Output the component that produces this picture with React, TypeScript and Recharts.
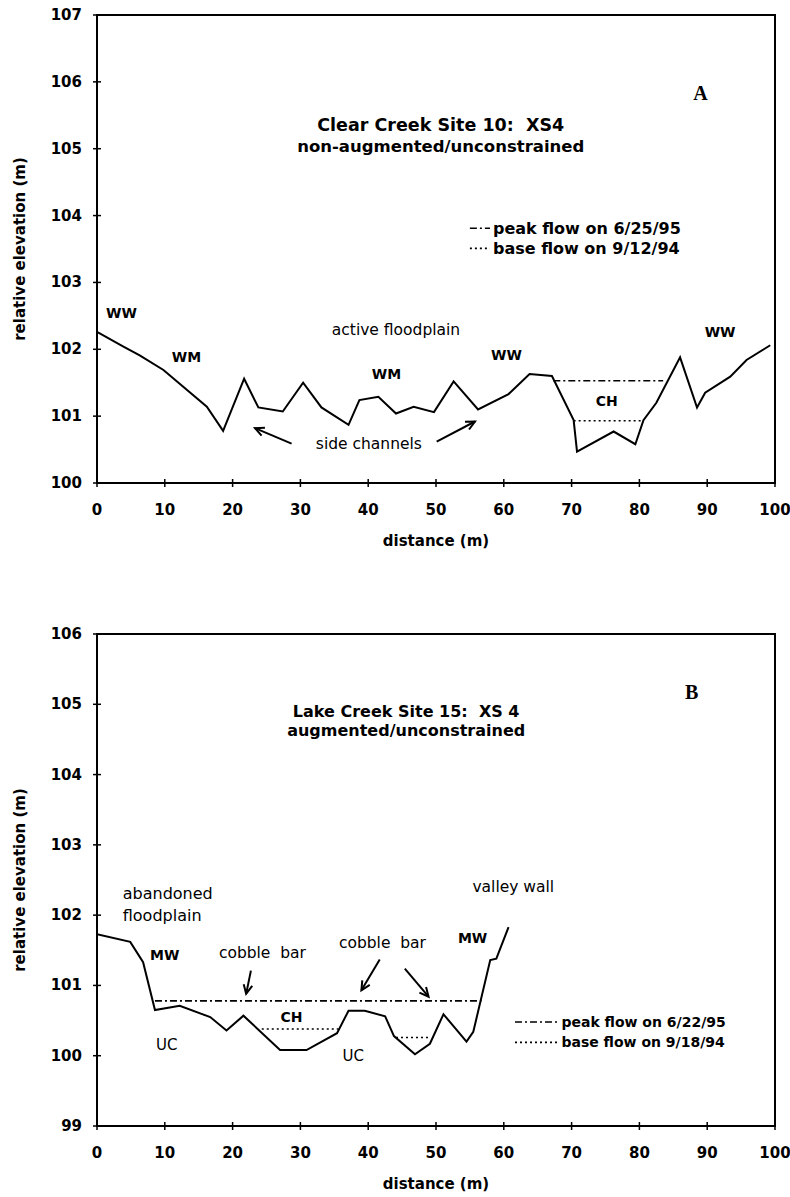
import {
  Line,
  LineChart,
  ReferenceArea,
  ReferenceDot,
  ReferenceLine,
  XAxis,
  YAxis,
} from "recharts";

const FONT = "'DejaVu Sans', 'Liberation Sans', Arial, sans-serif";
const SERIF = "'Liberation Serif', 'DejaVu Serif', serif";

const distanceTicks = [0, 10, 20, 30, 40, 50, 60, 70, 80, 90, 100];
const clearTicks = [100, 101, 102, 103, 104, 105, 106, 107];
const lakeTicks = [99, 100, 101, 102, 103, 104, 105, 106];

// A: Clear Creek Site 10, XS4
const clearDistance = [
  0, 3.9, 6.3, 9.8, 16.2, 18.6, 21.7, 23.8, 27.4, 30.4, 33.1, 37.1, 38.7, 41.5,
  44.1, 46.7, 49.7, 52.6, 56.2, 60.7, 63.8, 67.1, 70.3, 70.8, 76.2, 79.4, 80.6,
  82.5, 86.0, 88.5, 89.7, 93.4, 95.8, 99.3,
];
const clearElevation = [
  102.26, 102.04, 101.91, 101.69, 101.14, 100.78, 101.56, 101.13, 101.07,
  101.5, 101.13, 100.87, 101.24, 101.29, 101.04, 101.14, 101.06, 101.52, 101.1,
  101.33, 101.63, 101.6, 100.94, 100.47, 100.77, 100.58, 100.94, 101.2, 101.88,
  101.13, 101.35, 101.59, 101.84, 102.06,
];
const clearPeakSpan = [67.3, 83.5];
const clearPeakLevel = 101.53;
const clearBaseSpan = [70.3, 80.6];
const clearBaseLevel = 100.93;

// B: Lake Creek Site 15, XS 4
const lakeDistance = [
  0, 4.9, 6.8, 8.55, 12.2, 16.7, 19.1, 21.6, 27.0, 30.9, 35.4, 37.1, 39.5,
  42.5, 43.8, 46.9, 49.1, 51.1, 54.5, 55.5, 58.0, 58.9, 60.7,
];
const lakeElevation = [
  101.73, 101.62, 101.33, 100.65, 100.71, 100.55, 100.36, 100.57, 100.08,
  100.08, 100.32, 100.64, 100.64, 100.56, 100.28, 100.02, 100.17, 100.59,
  100.2, 100.34, 101.36, 101.38, 101.83,
];
const lakePeakSpan = [8.55, 56.7];
const lakePeakLevel = 100.78;
const lakeBaseSpans = [
  [24.3, 35.6],
  [44.1, 48.9],
];
const lakeBaseLevels = [100.38, 100.26];

type Note = { x: number; y: number; text: string; kind: string };

const clearNotes: Note[] = [
  { x: 50.7, y: 105.35, text: "Clear Creek Site 10:  XS4", kind: "titleA" },
  { x: 50.7, y: 105.03, text: "non-augmented/unconstrained", kind: "titleA2" },
  { x: 89.0, y: 105.83, text: "A", kind: "panel" },
  { x: 3.6, y: 102.54, text: "WW", kind: "code" },
  { x: 13.2, y: 101.89, text: "WM", kind: "code" },
  { x: 44.1, y: 102.29, text: "active floodplain", kind: "plain" },
  { x: 42.7, y: 101.63, text: "WM", kind: "code" },
  { x: 40.1, y: 100.59, text: "side channels", kind: "plain" },
  { x: 60.4, y: 101.91, text: "WW", kind: "code" },
  { x: 75.2, y: 101.23, text: "CH", kind: "code" },
  { x: 91.9, y: 102.26, text: "WW", kind: "code" },
  { x: 58.4, y: 103.81, text: "peak flow on 6/25/95", kind: "legendA" },
  { x: 58.4, y: 103.51, text: "base flow on 9/12/94", kind: "legendA" },
];
const clearArrows = [
  [28.7, 100.59, 23.3, 100.82],
  [50.1, 100.62, 55.75, 100.92],
];
const clearLegendSpan = [55.0, 57.96];

const lakeNotes: Note[] = [
  { x: 45.6, y: 104.9, text: "Lake Creek Site 15:  XS 4", kind: "titleB" },
  { x: 45.6, y: 104.63, text: "augmented/unconstrained", kind: "titleB" },
  { x: 87.7, y: 105.17, text: "B", kind: "panel" },
  { x: 3.8, y: 102.31, text: "abandoned", kind: "left" },
  { x: 3.8, y: 102.0, text: "floodplain", kind: "left" },
  { x: 10.0, y: 101.43, text: "MW", kind: "code" },
  { x: 24.4, y: 101.46, text: "cobble  bar", kind: "plain" },
  { x: 42.1, y: 101.61, text: "cobble  bar", kind: "plain" },
  { x: 28.7, y: 100.55, text: "CH", kind: "code" },
  { x: 10.3, y: 100.15, text: "UC", kind: "codeThin" },
  { x: 37.8, y: 100.0, text: "UC", kind: "codeThin" },
  { x: 55.4, y: 101.68, text: "MW", kind: "code" },
  { x: 61.4, y: 102.4, text: "valley wall", kind: "plain" },
  { x: 68.5, y: 100.48, text: "peak flow on 6/22/95", kind: "legendB" },
  { x: 68.5, y: 100.19, text: "base flow on 9/18/94", kind: "legendB" },
];
const lakeArrows = [
  [22.7, 101.21, 22.0, 100.88],
  [41.7, 101.37, 39.0, 100.93],
  [45.4, 101.24, 48.9, 100.84],
];
const lakeLegendSpan = [61.65, 68.0];

const toPoints = (xs: number[], ys: number[]) =>
  xs.map((x, i) => ({ x, y: ys[i] }));
const flat = (span: number[], level: number) =>
  span.map((x) => ({ x, y: level }));

const noteStyle: Record<string, any> = {
  titleA: { fontSize: 17.5, fontWeight: "bold", anchor: "middle", font: FONT },
  titleA2: { fontSize: 16.5, fontWeight: "bold", anchor: "middle", font: FONT },
  titleB: { fontSize: 16, fontWeight: "bold", anchor: "middle", font: FONT },
  panel: { fontSize: 20, fontWeight: "bold", anchor: "middle", font: SERIF },
  code: { fontSize: 14, fontWeight: "bold", anchor: "middle", font: FONT },
  codeThin: { fontSize: 15, fontWeight: "normal", anchor: "middle", font: FONT },
  plain: { fontSize: 15.5, fontWeight: "normal", anchor: "middle", font: FONT },
  left: { fontSize: 16, fontWeight: "normal", anchor: "start", font: FONT },
  legendA: { fontSize: 16, fontWeight: "bold", anchor: "start", font: FONT },
  legendB: { fontSize: 14, fontWeight: "bold", anchor: "start", font: FONT },
};

const renderNote = (n: Note, i: number) => {
  const s = noteStyle[n.kind];
  return (
    <ReferenceDot
      key={`n${i}`}
      x={n.x}
      y={n.y}
      r={1}
      fill="none"
      stroke="none"
      shape={(p: any) => (
        <text
          x={p.cx}
          y={p.cy}
          textAnchor={s.anchor}
          dominantBaseline="central"
          fontFamily={s.font}
          fontSize={s.fontSize}
          fontWeight={s.fontWeight}
          fill="#000"
          style={{ whiteSpace: "pre" }}
        >
          {n.text}
        </text>
      )}
    />
  );
};

const ArrowShape = (p: any) => {
  const { x1, y1, x2, y2 } = p;
  const a = Math.atan2(y2 - y1, x2 - x1);
  const len = 10;
  const spread = 0.45;
  const h1x = x2 - len * Math.cos(a - spread);
  const h1y = y2 - len * Math.sin(a - spread);
  const h2x = x2 - len * Math.cos(a + spread);
  const h2y = y2 - len * Math.sin(a + spread);
  return (
    <g>
      <line x1={x1} y1={y1} x2={x2} y2={y2} stroke="#000" strokeWidth={2} />
      <polyline
        points={`${h1x},${h1y} ${x2},${y2} ${h2x},${h2y}`}
        fill="none"
        stroke="#000"
        strokeWidth={2}
      />
    </g>
  );
};

const renderArrow = (a: number[], i: number) => (
  <ReferenceLine
    key={`a${i}`}
    segment={[
      { x: a[0], y: a[1] },
      { x: a[2], y: a[3] },
    ]}
    shape={ArrowShape}
  />
);

const YTick = (p: any) => (
  <g>
    <line x1={p.x - 4} x2={p.x + 4} y1={p.y} y2={p.y} stroke="#000" strokeWidth={1.5} />
    <text
      x={p.x - 15}
      y={p.y}
      textAnchor="end"
      dominantBaseline="central"
      fontFamily={FONT}
      fontSize={15}
      fontWeight="bold"
      fill="#000"
    >
      {p.payload.value}
    </text>
  </g>
);

const XTick = (p: any) => (
  <g>
    <line x1={p.x} x2={p.x} y1={p.y - 4} y2={p.y + 4} stroke="#000" strokeWidth={1.5} />
    <text
      x={p.x}
      y={p.y + 27}
      textAnchor="middle"
      dominantBaseline="central"
      fontFamily={FONT}
      fontSize={15}
      fontWeight="bold"
      fill="#000"
    >
      {p.payload.value}
    </text>
  </g>
);

const axisTitle = {
  fill: "#000",
  fontSize: 15,
  fontWeight: "bold",
  fontFamily: FONT,
};

type PanelProps = {
  top: number;
  height: number;
  marginTop: number;
  axisHeight: number;
  yTicks: number[];
  profile: { x: number; y: number }[];
  peak: { x: number; y: number }[];
  bases: { x: number; y: number }[][];
  notes: Note[];
  arrows: number[][];
  legendSpan: number[];
  legendLevels: number[];
};

const Panel = (props: PanelProps) => {
  const { yTicks } = props;
  const lo = yTicks[0];
  const hi = yTicks[yTicks.length - 1];
  return (
    <div style={{ position: "absolute", left: 0, top: props.top }}>
      <LineChart
        width={790}
        height={props.height}
        margin={{ top: props.marginTop, right: 15, bottom: 0, left: 0 }}
      >
        <XAxis
          dataKey="x"
          type="number"
          domain={[0, 100]}
          ticks={distanceTicks}
          interval={0}
          tick={XTick}
          tickSize={0}
          tickMargin={0}
          tickLine={false}
          axisLine={{ stroke: "#000", strokeWidth: 2 }}
          height={props.axisHeight}
          allowDataOverflow
          label={{
            value: "distance (m)",
            position: "insideBottom",
            offset: props.axisHeight - 63,
            ...axisTitle,
          }}
        />
        <YAxis
          dataKey="y"
          type="number"
          domain={[lo, hi]}
          ticks={yTicks}
          interval={0}
          tick={YTick}
          tickSize={0}
          tickMargin={0}
          tickLine={false}
          axisLine={{ stroke: "#000", strokeWidth: 2 }}
          width={97}
          allowDataOverflow
          label={{
            value: "relative elevation (m)",
            angle: -90,
            position: "insideLeft",
            offset: 20,
            style: { textAnchor: "middle" },
            ...axisTitle,
          }}
        />
        <ReferenceArea
          x1={0}
          x2={100}
          y1={lo}
          y2={hi}
          fill="none"
          stroke="#000"
          strokeWidth={2}
          fillOpacity={0}
        />
        <Line
          data={props.profile}
          dataKey="y"
          type="linear"
          stroke="#000"
          strokeWidth={2}
          dot={false}
          isAnimationActive={false}
        />
        <Line
          data={props.peak}
          dataKey="y"
          type="linear"
          stroke="#000"
          strokeWidth={1.6}
          strokeDasharray="7 3 2 3"
          dot={false}
          isAnimationActive={false}
        />
        {props.bases.map((b, i) => (
          <Line
            key={`b${i}`}
            data={b}
            dataKey="y"
            type="linear"
            stroke="#000"
            strokeWidth={1.6}
            strokeDasharray="2 3"
            dot={false}
            isAnimationActive={false}
          />
        ))}
        <ReferenceLine
          segment={[
            { x: props.legendSpan[0], y: props.legendLevels[0] },
            { x: props.legendSpan[1], y: props.legendLevels[0] },
          ]}
          stroke="#000"
          strokeWidth={1.6}
          strokeDasharray="7 3 2 3"
        />
        <ReferenceLine
          segment={[
            { x: props.legendSpan[0], y: props.legendLevels[1] },
            { x: props.legendSpan[1], y: props.legendLevels[1] },
          ]}
          stroke="#000"
          strokeWidth={1.6}
          strokeDasharray="2 3"
        />
        {props.arrows.map(renderArrow)}
        {props.notes.map(renderNote)}
      </LineChart>
    </div>
  );
};

const App = () => (
  <div
    style={{
      position: "absolute",
      left: 0,
      top: 0,
      width: 790,
      height: 1197,
      background: "#fff",
      fontFamily: FONT,
    }}
  >
    <Panel
      top={0}
      height={560}
      marginTop={15}
      axisHeight={77}
      yTicks={clearTicks}
      profile={toPoints(clearDistance, clearElevation)}
      peak={flat(clearPeakSpan, clearPeakLevel)}
      bases={[flat(clearBaseSpan, clearBaseLevel)]}
      notes={clearNotes}
      arrows={clearArrows}
      legendSpan={clearLegendSpan}
      legendLevels={[clearNotes[11].y, clearNotes[12].y]}
    />
    <Panel
      top={590}
      height={607}
      marginTop={44}
      axisHeight={71}
      yTicks={lakeTicks}
      profile={toPoints(lakeDistance, lakeElevation)}
      peak={flat(lakePeakSpan, lakePeakLevel)}
      bases={lakeBaseSpans.map((s, i) => flat(s, lakeBaseLevels[i]))}
      notes={lakeNotes}
      arrows={lakeArrows}
      legendSpan={lakeLegendSpan}
      legendLevels={[lakeNotes[13].y, lakeNotes[14].y]}
    />
  </div>
);

export default App;
